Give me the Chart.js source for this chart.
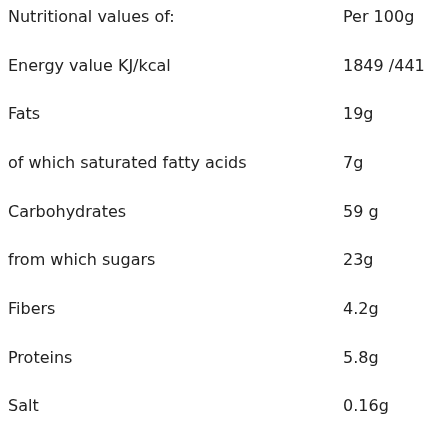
<!DOCTYPE html>
<html>
<head>
<script src="https://cdn.jsdelivr.net/npm/chart.js@4"></script>
<style>
body { margin: 0; background: #fff; }
#wrap { width: 434px; height: 421px; }
</style>
</head>
<body>
<div id="wrap"><canvas id="table"></canvas></div>
<script>
// nutrition rows, top to bottom
let nutrients = ["Nutritional values of:", "Energy value KJ/kcal", "Fats", "of which saturated fatty acids",
  "Carbohydrates", "from which sugars", "Fibers", "Proteins", "Salt"];
let amounts = ["Per 100g", "1849 /441", "19g", "7g", "59 g", "23g", "4.2g", "5.8g", "0.16g"];

let font = { family: "DejaVu Sans", size: 16 };

new Chart(document.getElementById("table"), {
  type: 'bar',
  data: {
    labels: nutrients,
    datasets: [{ data: [], yAxisID: 'y' }]
  },
  options: {
    indexAxis: 'y',
    responsive: true,
    maintainAspectRatio: false,
    animation: false,
    layout: { padding: { left: 8, top: 18, bottom: 14, right: 0 } },
    plugins: { legend: { display: false }, tooltip: { enabled: false } },
    scales: {
      x: { display: false },
      y: {
        type: 'category',
        offset: false,
        grid: { display: false },
        border: { display: false },
        ticks: { crossAlign: 'far', padding: 0, color: '#222', font: font },
        afterFit: s => { s.width = 326; }
      },
      y2: {
        type: 'category',
        position: 'right',
        labels: amounts,
        offset: false,
        grid: { display: false },
        border: { display: false },
        ticks: { crossAlign: 'near', padding: 0, color: '#222', font: font },
        afterFit: s => { s.width = 99; }
      }
    }
  }
});
</script>
</body>
</html>
